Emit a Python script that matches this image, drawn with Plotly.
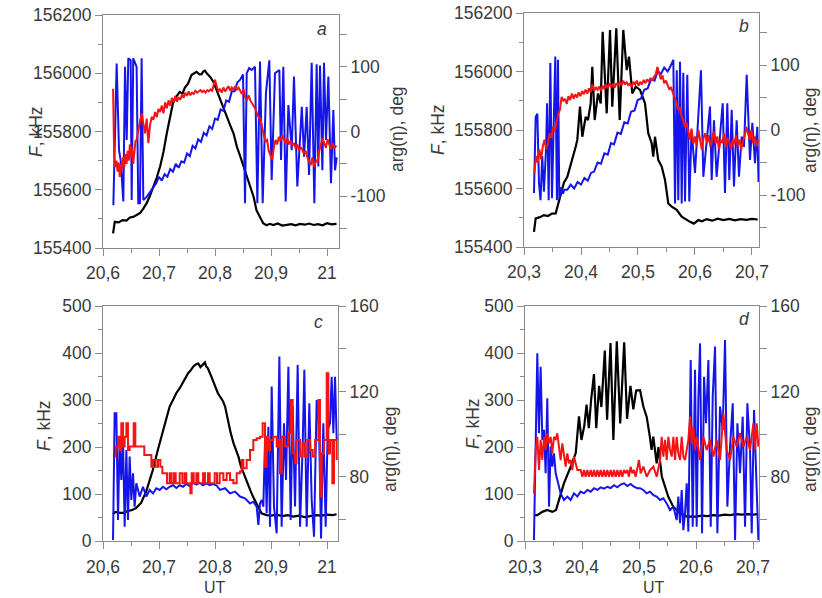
import plotly.graph_objects as go

# ---------------- Panel a ----------------
a_black_t = [20.618, 20.621, 20.628, 20.635, 20.642, 20.648, 20.654, 20.660, 20.666, 20.672,
             20.678, 20.684, 20.690, 20.696, 20.702, 20.708, 20.714, 20.720, 20.725, 20.731,
             20.737, 20.742, 20.746, 20.752, 20.758, 20.763, 20.767, 20.772, 20.776, 20.779,
             20.782, 20.786, 20.791, 20.797, 20.803, 20.809, 20.815, 20.821, 20.827, 20.833,
             20.839, 20.845, 20.851, 20.857, 20.863, 20.869, 20.874, 20.880, 20.886, 20.892,
             20.898, 20.904, 20.912, 20.920, 20.928, 20.936, 20.944, 20.952, 20.960, 20.968,
             20.976, 20.984, 20.992, 21.000, 21.008, 21.017]
a_black_f = [155450, 155490, 155488, 155496, 155494, 155505, 155507, 155514, 155520, 155535,
             155554, 155580, 155610, 155642, 155680, 155730, 155795, 155850, 155898, 155920,
             155936, 155930, 155950, 155965, 155994, 156000, 156005, 155996, 155997, 156006,
             156009, 155998, 155988, 155971, 155940, 155908, 155880, 155851, 155822, 155794,
             155748, 155715, 155679, 155645, 155610, 155575, 155530, 155505, 155485, 155478,
             155483, 155479, 155484, 155477, 155480, 155482, 155478, 155483, 155480, 155484,
             155479, 155482, 155478, 155485, 155481, 155483]

a_blue_t = [20.6185, 20.6244, 20.6286, 20.6315, 20.6363, 20.6393, 20.6423, 20.6452, 20.6494, 20.6512,
            20.654, 20.660, 20.663, 20.666, 20.669, 20.672, 20.678, 20.684, 20.690,
            20.695, 20.700, 20.705, 20.710, 20.715, 20.720, 20.725, 20.730, 20.735, 20.740,
            20.745, 20.750, 20.755, 20.760, 20.765, 20.770, 20.775, 20.780, 20.785, 20.790,
            20.795, 20.800, 20.805, 20.810, 20.815, 20.820, 20.825, 20.830, 20.835, 20.840,
            20.845, 20.850,
            20.8536, 20.8566, 20.861, 20.8655, 20.8714, 20.8756, 20.8804, 20.8851, 20.891, 20.897,
            20.9012, 20.9071, 20.9149, 20.9179, 20.922, 20.9262, 20.931, 20.937, 20.941, 20.947,
            20.955, 20.959, 20.9637, 20.9679, 20.9726, 20.9774, 20.9815, 20.9845, 20.9875, 20.9917,
            20.9946, 20.9982, 21.0024, 21.0071, 21.0113, 21.0143, 21.0173]
a_blue_deg = [-114, 105, -29, -44, -108, 100, -13, 113, 110, -106,
              113, 100, -111, -111, 113, -106, -101, -93, -85,
              -80, -70, -76, -66, -70, -58, -62, -50, -56, -46,
              -48, -34, -38, -22, -26, -12, -16, -2, -6, 8,
              4, 20, 18, 34, 32, 48, 46, 62, 62, 76,
              80, 88,
              -111, 90, 98, 95, 100, -111, 108, -111, 60, 110,
              -75, 90, 95, -44, 100, -108, 41, -29, 85, -85,
              38, -39, 38, -67, 106, -111, 104, -54, 102, -60,
              106, -13, 85, -80, 33, -60, -40]

a_red_t = [20.618, 20.620, 20.622, 20.624, 20.626, 20.628, 20.630, 20.632, 20.634, 20.636,
           20.638, 20.640, 20.642, 20.644, 20.646, 20.648, 20.650, 20.652, 20.654, 20.656,
           20.658, 20.660, 20.663, 20.666, 20.669, 20.672, 20.675, 20.678, 20.681, 20.684,
           20.687, 20.690, 20.693, 20.696, 20.699, 20.702, 20.705, 20.708, 20.711, 20.714,
           20.717, 20.720, 20.723, 20.726, 20.729, 20.732, 20.735, 20.738, 20.741, 20.744,
           20.747, 20.750, 20.753, 20.756, 20.759, 20.762, 20.765, 20.768, 20.771, 20.774,
           20.777, 20.780, 20.783, 20.786, 20.789, 20.792, 20.795, 20.798, 20.800, 20.803,
           20.806, 20.809, 20.812, 20.815, 20.818, 20.821, 20.824, 20.827, 20.830, 20.833,
           20.836, 20.839, 20.842, 20.845, 20.848, 20.851, 20.854, 20.857, 20.860, 20.863,
           20.866, 20.869, 20.872, 20.875, 20.878, 20.881, 20.884, 20.887, 20.890, 20.893,
           20.896, 20.899, 20.902, 20.905, 20.908, 20.911, 20.914, 20.917, 20.920, 20.923,
           20.926, 20.929, 20.932, 20.935, 20.938, 20.941, 20.944, 20.947, 20.950, 20.953,
           20.956, 20.959, 20.962, 20.965, 20.968, 20.971, 20.974, 20.977, 20.980, 20.983,
           20.986, 20.989, 20.992, 20.995, 20.998, 21.001, 21.004, 21.007, 21.010, 21.013,
           21.017]
a_red_deg = [66, -40, -55, -45, -62, -48, -70, -50, -58, -40,
             -55, -35, -50, -30, -45, -20, -40, -25, -50, -30,
             -15, -13, 5, 15, 28, 10, -3, 20, -18, 10,
             23, 18, 30, 22, 35, 30, 40, 28, 45, 36,
             48, 40, 52, 45, 55, 46, 53, 49, 57, 52,
             60, 55, 62, 56, 60, 58, 63, 60, 62, 64,
             61, 63, 60, 64, 62, 65, 63, 72, 80, 70,
             62, 66, 60, 68, 62, 66, 70, 63, 68, 64,
             70, 65, 68, 63, 58, 65, 52, 49, 56, 48,
             44, 40, 35, 28, 22, 20, 5, -5, -15, -13,
             -30, -38, -44, -25, -13, -20, -8, -15, -5, -12,
             -18, -10, -20, -14, -22, -18, -26, -20, -30, -24,
             -28, -35, -30, -40, -45, -52, -40, -55, -44, -48,
             -30, -20, -10, -18, -25, -12, -20, -28, -18, -25,
             -22]

# ---------------- Panel b ----------------
b_black_t = [20.3175, 20.3205, 20.328, 20.335, 20.342, 20.349, 20.3556, 20.3644, 20.370, 20.376,
             20.3847, 20.3907, 20.3935, 20.3982, 20.4023, 20.4082, 20.4123, 20.417, 20.4198, 20.424,
             20.4298, 20.4346, 20.438, 20.4451, 20.4509, 20.4549, 20.4619, 20.4679, 20.4742, 20.4802,
             20.4842, 20.490, 20.496, 20.5035, 20.5123, 20.518, 20.524, 20.5268, 20.5298, 20.5356,
             20.5416, 20.5474, 20.5532, 20.5591, 20.5679, 20.5767, 20.5912, 20.598, 20.6058, 20.612,
             20.6205, 20.630, 20.640, 20.650, 20.660, 20.670, 20.680, 20.690, 20.700, 20.710]
b_black_f = [155452, 155498, 155502, 155509, 155506, 155514, 155515, 155584, 155620, 155640,
             155697, 155743, 155766, 155880, 155777, 155845, 155834, 155891, 156016, 155834,
             155925, 155891, 156136, 155857, 156142, 155880, 156148, 155834, 156142, 156005,
             156051, 155925, 155948, 155937, 155891, 155789, 155755, 155709, 155777, 155697,
             155675, 155629, 155549, 155538, 155527, 155504, 155486, 155480, 155492, 155488,
             155495, 155490, 155497, 155492, 155496, 155491, 155495, 155493, 155496, 155494]

b_blue_t = [20.3175, 20.3205, 20.3235, 20.3263, 20.329, 20.332, 20.335, 20.3386, 20.3405, 20.3433,
            20.3462, 20.3491, 20.3549, 20.3578, 20.3596, 20.3619, 20.3655, 20.3684, 20.3707,
            20.376, 20.382, 20.388, 20.394, 20.400, 20.406, 20.412, 20.4175, 20.423, 20.429,
            20.435, 20.441, 20.447, 20.4526, 20.458, 20.464, 20.470, 20.476, 20.482, 20.4877,
            20.494, 20.4994, 20.505, 20.511, 20.517, 20.5228, 20.529, 20.5345, 20.540, 20.546,
            20.552, 20.557,
            20.562, 20.565, 20.568, 20.5707, 20.5737, 20.5767, 20.5795, 20.5825, 20.5865, 20.590,
            20.594, 20.600, 20.6076, 20.6105, 20.6146, 20.6205, 20.6263, 20.6293, 20.6333, 20.638,
            20.6439, 20.6486, 20.6526, 20.6567, 20.6602, 20.6644, 20.6684, 20.6731, 20.6772, 20.6819,
            20.686, 20.6907, 20.6965, 20.7006, 20.7053, 20.7093, 20.7115]
b_blue_deg = [-97, 20, 25, -82, -108, -40, -95, -30, 41, -108,
              103, -105, 113, -108, 108, -105, -88, -98, -92,
              -92, -84, -90, -80, -84, -74, -78, -66, -64, -50,
              -52, -36, -38, -20, -22, -4, -6, 12, 10, 28,
              30, 46, 48, 62, 64, 78, 76, 90, 86, 96,
              90, 98,
              108, -113, 92, -108, 105, -113, 88, -110, 85, -110,
              0, -66, 46, 92, -72, -15, 36, -77, 15, -72,
              -5, 41, -97, 41, -77, 31, -87, 15, -72, -10,
              -26, 85, -46, 11, -51, 5, -80]

b_red_t = [20.318, 20.321, 20.324, 20.327, 20.330, 20.333, 20.336, 20.339, 20.342, 20.345,
           20.348, 20.351, 20.354, 20.357, 20.360, 20.363, 20.366, 20.369, 20.372, 20.375,
           20.378, 20.381, 20.384, 20.387, 20.390, 20.393, 20.396, 20.399, 20.402, 20.405,
           20.408, 20.411, 20.414, 20.417, 20.420, 20.423, 20.426, 20.429, 20.432, 20.435,
           20.438, 20.441, 20.444, 20.447, 20.450, 20.453, 20.456, 20.459, 20.462, 20.465,
           20.468, 20.471, 20.474, 20.477, 20.480, 20.483, 20.486, 20.489, 20.492, 20.495,
           20.498, 20.501, 20.504, 20.507, 20.510, 20.513, 20.516, 20.519, 20.522, 20.525,
           20.528, 20.531, 20.534, 20.537, 20.540, 20.543, 20.546, 20.549, 20.552, 20.555,
           20.558, 20.561, 20.564, 20.567, 20.570, 20.573, 20.576, 20.579, 20.582, 20.585,
           20.588, 20.591, 20.594, 20.597, 20.600, 20.603, 20.606, 20.609, 20.612, 20.615,
           20.618, 20.621, 20.624, 20.627, 20.630, 20.633, 20.636, 20.639, 20.642, 20.645,
           20.648, 20.651, 20.654, 20.657, 20.660, 20.663, 20.666, 20.669, 20.672, 20.675,
           20.678, 20.681, 20.684, 20.687, 20.690, 20.693, 20.696, 20.699, 20.702, 20.705,
           20.708, 20.711]
b_red_deg = [-67, -40, -50, -30, -45, -25, -15, -30, -20, -5,
             -12, 5, -2, 10, 25, 31, 51, 45, 48, 40,
             52, 46, 56, 48, 55, 50, 58, 52, 60, 55,
             62, 56, 64, 58, 70, 60, 66, 62, 67, 60,
             68, 63, 70, 64, 72, 66, 70, 65, 72, 68,
             74, 69, 76, 70, 74, 68, 72, 66, 74, 70,
             76, 68, 74, 70, 77, 72, 78, 74, 80, 76,
             82, 85, 97, 88, 78, 84, 72, 76, 70, 62,
             66, 56, 50, 44, 31, 36, 22, 15, 5, 12,
             -5, -15, 2, -21, -10, -25, 0, -15, -30, -12,
             -5, -20, -8, -26, -14, -2, -21, -10, -30, -15,
             -20, -5, -26, -12, -18, -30, -15, -22, -8, -25,
             -15, -30, -18, -10, 5, -5, -15, 0, -20, -10,
             -25, -15]

# ---------------- Panel c ----------------
c_black_t = [20.618, 20.622, 20.630, 20.636, 20.645, 20.652, 20.659, 20.668, 20.677, 20.689,
             20.698, 20.707, 20.713, 20.719, 20.725, 20.731, 20.737, 20.743, 20.748, 20.752,
             20.756, 20.761, 20.765, 20.770, 20.774, 20.779, 20.782, 20.784, 20.787, 20.791,
             20.795, 20.800, 20.805, 20.809, 20.814, 20.818, 20.824, 20.828, 20.833, 20.837,
             20.842, 20.846, 20.851, 20.855, 20.860, 20.864, 20.868, 20.873, 20.877, 20.883,
             20.892, 20.900, 20.910, 20.920, 20.930, 20.940, 20.950, 20.960, 20.970, 20.980,
             20.990, 21.000, 21.010, 21.017]
c_black_f = [57, 62, 60, 60, 64, 66, 70, 81, 105, 151,
             194, 236, 260, 286, 300, 315, 325, 339, 348, 357,
             362, 371, 375, 378, 370, 375, 380, 372, 368, 357,
             345, 328, 315, 307, 298, 286, 250, 230, 208, 195,
             179, 160, 144, 130, 116, 105, 94, 84, 73, 59,
             55, 54, 56, 53, 55, 52, 54, 51, 53, 55,
             54, 56, 55, 57]

c_blue_t = [20.6179, 20.6208, 20.6238, 20.6268, 20.6298, 20.6327, 20.6357, 20.6387, 20.6417, 20.6446,
            20.6476, 20.6506, 20.6536, 20.6565, 20.6595, 20.6655, 20.6714, 20.6774, 20.6833, 20.6893,
            20.6952, 20.7012, 20.7071, 20.7131, 20.719, 20.725, 20.731, 20.7369, 20.7429, 20.7488,
            20.7548, 20.7607, 20.7667, 20.7726, 20.7786, 20.7845, 20.7905, 20.7964, 20.8024, 20.8089,
            20.8179, 20.8268, 20.8357, 20.8446, 20.8536, 20.8625, 20.8684, 20.8744, 20.8774, 20.8803,
            20.8833, 20.8863, 20.8893, 20.8922, 20.8952, 20.8982, 20.9012, 20.9053, 20.9101, 20.9149,
            20.919, 20.9232, 20.9268, 20.931, 20.9351, 20.9387, 20.9429, 20.9476, 20.9518, 20.9565,
            20.9595, 20.9637, 20.9684, 20.9726, 20.9768, 20.9815, 20.9857, 20.9893, 20.9934, 20.9976,
            21.0012, 21.0053, 21.0083, 21.0113, 21.0143, 21.0173]
c_blue_deg = [50.5, 109.8, 109.8, 59.8, 98.8, 78.6, 97.3, 56.7, 92.6, 59.8,
              89.5, 69.2, 81.7, 66.1, 77.0, 70.8, 75.4, 70.8, 73.9, 72.3,
              74.7, 73.9, 75.4, 74.2, 75.4, 76.1, 74.8, 76.1, 75.4, 76.7,
              75.7, 77.3, 76.4, 77.3, 76.1, 77.0, 76.1, 76.7, 76.1, 73.9,
              74.7, 72.3, 73.1, 70.8, 70.0, 67.6, 68.4, 66.1, 57.5, 67.6,
              69.2, 66.1, 97.3, 63.0, 103.5, 56.7, 122.3, 66.1, 53.6, 136.3,
              56.7, 105.1, 78.6, 131.6, 59.8, 112.9, 66.1, 132.4, 56.7, 94.2,
              130.1, 56.7, 114.5, 69.2, 52.0, 116.0, 103.5, 51.2, 105.1, 56.7,
              102.0, 105.1, 126.9, 100.4, 126.9, 97.3]

c_red_t = [20.6208, 20.6226, 20.6268, 20.6298, 20.6327, 20.6357, 20.6387, 20.6417, 20.6446, 20.6476,
           20.6524, 20.6548, 20.6577, 20.6726, 20.6738, 20.6833, 20.6863, 20.6893, 20.694, 20.6982,
           20.7024, 20.706, 20.7119, 20.7143, 20.719, 20.722, 20.7262, 20.7298, 20.7345, 20.7369,
           20.7417, 20.7458, 20.7488, 20.7536, 20.756, 20.7583, 20.7619, 20.7667, 20.7702, 20.7756,
           20.7786, 20.7821, 20.7875, 20.7905, 20.7964, 20.7994, 20.8036, 20.8083, 20.8119, 20.8149,
           20.8208, 20.8268, 20.8327, 20.8387, 20.8446, 20.8476, 20.8506, 20.8565, 20.8625, 20.8684,
           20.8744, 20.8803, 20.8851, 20.8893, 20.8922, 20.8952, 20.8982, 20.9041, 20.9101, 20.913,
           20.916, 20.919, 20.925, 20.931, 20.9351, 20.9387, 20.9429, 20.9458, 20.9518, 20.9565,
           20.9607, 20.9649, 20.9696, 20.9744, 20.9786, 20.9845, 20.9875, 20.9905, 20.9946, 20.9994,
           21.0024, 21.0053, 21.0095, 21.0125, 21.0173]
c_red_deg = [89.5, 94.2, 98.8, 92.6, 105.1, 94.2, 98.8, 105.1, 92.6, 94.2,
             94.2, 105.1, 94.2, 94.2, 90.3, 90.3, 84.8, 87.9, 84.8, 87.9,
             84.8, 81.7, 81.7, 77.0, 81.7, 77.0, 81.7, 77.0, 77.0, 81.7,
             77.0, 81.7, 77.0, 77.0, 72.3, 81.7, 77.0, 81.7, 77.0, 77.0,
             81.7, 77.0, 81.7, 77.0, 77.0, 81.7, 77.0, 81.7, 81.7, 78.6,
             81.7, 78.6, 77.0, 81.7, 82.5, 87.9, 84.0, 87.9, 92.6, 97.3,
             98.1, 98.8, 105.1, 84.8, 98.8, 92.6, 97.3, 98.8, 94.2, 97.3,
             81.7, 98.8, 94.2, 100.4, 116.0, 91.0, 86.4, 97.3, 89.5, 95.7,
             89.5, 97.3, 92.6, 89.5, 97.3, 116.0, 70.8, 91.0, 97.3, 128.5,
             91.0, 97.3, 77.0, 97.3, 87.9]

# ---------------- Panel d ----------------
d_black_t = [20.3158, 20.3216, 20.3304, 20.3391, 20.3479, 20.3544, 20.3596, 20.3684, 20.3802, 20.389,
             20.3947, 20.399, 20.404, 20.408, 20.412, 20.416, 20.421, 20.425, 20.430, 20.434,
             20.440, 20.444, 20.450, 20.455, 20.461, 20.467, 20.474, 20.479, 20.485, 20.490,
             20.495, 20.5018, 20.5076, 20.5135, 20.519, 20.522, 20.525, 20.531, 20.534, 20.540,
             20.5456, 20.5514, 20.560, 20.572, 20.584, 20.600, 20.610, 20.620, 20.630, 20.640,
             20.650, 20.660, 20.670, 20.680, 20.690, 20.700, 20.709]
d_black_f = [55, 55, 62, 66, 62, 66, 87, 123, 158, 187,
             265, 215, 245, 290, 240, 300, 355, 240, 330, 285,
             405, 258, 421, 215, 425, 250, 423, 260, 330, 280,
             320, 321, 286, 264, 222, 194, 222, 165, 200, 137,
             116, 94, 73, 59, 52, 52, 54, 53, 55, 54,
             56, 55, 57, 56, 57, 56, 57]

d_blue_t = [20.3157, 20.3216, 20.3245, 20.3274, 20.3304, 20.3333, 20.3362, 20.3391, 20.3421, 20.345,
            20.3479, 20.3508, 20.3538, 20.3567, 20.3625, 20.3684, 20.3742, 20.3801, 20.3859, 20.3918,
            20.3976, 20.4035, 20.4093, 20.4152, 20.421, 20.4269, 20.4327, 20.4386, 20.4444, 20.4503,
            20.4561, 20.462, 20.4678, 20.4736, 20.4795, 20.4853, 20.4912, 20.497, 20.5018, 20.5076,
            20.5135, 20.5193, 20.5252, 20.531, 20.5369, 20.5427, 20.5486, 20.5544, 20.5603, 20.5661,
            20.569, 20.572, 20.5749, 20.5778, 20.5807, 20.5837, 20.5866, 20.5907, 20.5942, 20.5983,
            20.6012, 20.6041, 20.6071, 20.6106, 20.6141, 20.6176, 20.6217, 20.6258, 20.6293, 20.6334,
            20.6375, 20.6421, 20.6468, 20.6509, 20.655, 20.6597, 20.6644, 20.6685, 20.6726, 20.6772,
            20.6819, 20.686, 20.6901, 20.6948, 20.6977, 20.7018, 20.7065, 20.7094]
d_blue_deg = [50.5, 137.9, 100.4, 131.6, 97.3, 102.0, 81.7, 116.8, 66.1, 94.2,
              84.8, 91.0, 81.7, 78.6, 72.3, 69.2, 70.8, 69.2, 72.3, 70.8,
              73.1, 72.3, 73.9, 73.1, 74.7, 73.9, 75.1, 74.5, 75.4, 74.8,
              76.1, 75.1, 76.4, 77.0, 75.7, 76.7, 75.4, 74.7, 74.7, 73.9,
              72.3, 73.1, 71.5, 70.8, 69.2, 70.0, 67.6, 64.5, 66.1, 59.8,
              70.8, 58.3, 73.9, 55.1, 63.0, 77.0, 54.4, 134.7, 56.7, 130.1,
              56.7, 116.0, 142.5, 53.6, 126.9, 105.1, 134.7, 56.7, 117.6, 141.0,
              53.6, 112.9, 102.0, 144.1, 66.1, 94.2, 114.5, 50.5, 105.1, 81.7,
              108.2, 56.7, 114.5, 92.6, 53.6, 111.3, 73.9, 50.5]

d_red_t = [20.3157, 20.3187, 20.3216, 20.3245, 20.3274, 20.3304, 20.3333, 20.3362, 20.3391, 20.3421,
           20.345, 20.3479, 20.3508, 20.3538, 20.3567, 20.3596, 20.3625, 20.3655, 20.3684, 20.3713,
           20.3742, 20.3772, 20.3801, 20.383, 20.3859, 20.3918, 20.3976, 20.4006, 20.4035, 20.4064,
           20.4093, 20.4123, 20.4152, 20.4181, 20.421, 20.424, 20.4269, 20.4298, 20.4327, 20.4357,
           20.4386, 20.4415, 20.4444, 20.4474, 20.4503, 20.4532, 20.4561, 20.4591, 20.462, 20.4649,
           20.4678, 20.4708, 20.4737, 20.4766, 20.4795, 20.4824, 20.4853, 20.4883, 20.4912, 20.4941,
           20.500, 20.5029, 20.5076, 20.5135, 20.5193, 20.5252, 20.531, 20.5369, 20.5398, 20.5427,
           20.5457, 20.5486, 20.5515, 20.5544, 20.5574, 20.5603, 20.5632, 20.5661, 20.569, 20.572,
           20.5749, 20.5778, 20.5807, 20.5837, 20.5866, 20.5895, 20.5924, 20.5954, 20.5983, 20.6012,
           20.6071, 20.6129, 20.6188, 20.6246, 20.6305, 20.6363, 20.6422, 20.648, 20.6538, 20.6597,
           20.6655, 20.6714, 20.6772, 20.6831, 20.6889, 20.6948, 20.7006, 20.7035, 20.7065, 20.7094]
d_red_deg = [72.3, 92.6, 98.8, 83.2, 97.3, 87.9, 98.8, 92.6, 100.4, 95.7,
             98.8, 91.0, 98.8, 97.3, 100.4, 92.6, 87.9, 95.7, 89.5, 84.8,
             91.0, 86.4, 87.9, 83.2, 89.5, 83.2, 83.2, 80.1, 83.2, 80.1,
             83.2, 80.1, 83.2, 80.1, 83.2, 80.1, 83.2, 80.1, 83.2, 80.1,
             83.2, 80.1, 83.2, 80.1, 83.2, 80.1, 83.2, 80.1, 83.2, 80.1,
             83.2, 80.1, 83.2, 81.7, 83.2, 80.1, 84.8, 81.7, 83.2, 80.1,
             87.9, 81.7, 84.8, 80.1, 83.2, 84.8, 80.1, 87.9, 98.8, 89.5,
             97.3, 87.9, 98.8, 92.6, 89.5, 98.8, 87.9, 98.8, 91.0, 87.9,
             98.8, 89.5, 87.9, 92.6, 97.3, 108.2, 95.7, 103.5, 92.6, 98.8,
             87.9, 98.8, 92.6, 97.3, 89.5, 97.3, 87.9, 109.8, 92.6, 87.9,
             98.8, 94.2, 100.4, 94.2, 98.8, 92.6, 105.1, 92.6, 105.1, 94.2]

# ---------------- Axis ticks ----------------
x_ticks_ac = [20.6, 20.7, 20.8, 20.9, 21.0]
x_labels_ac = ["20,6", "20,7", "20,8", "20,9", "21"]
x_ticks_bd = [20.3, 20.4, 20.5, 20.6, 20.7]
x_labels_bd = ["20,3", "20,4", "20,5", "20,6", "20,7"]
f_ticks_ab = [155400, 155600, 155800, 156000, 156200]
f_labels_ab = ["155400", "155600", "155800", "156000", "156200"]
f_ticks_cd = [0, 100, 200, 300, 400, 500]
arg_ticks_ab = [-100, 0, 100]
arg_ticks_cd = [80, 120, 160]

BLACK = "#000000"
BLUE = "rgb(20,20,235)"
RED = "rgb(245,20,20)"
AXC = "#8a8a8a"
TXT = "#3a3a3a"
FONT = "Liberation Sans, Arial, sans-serif"
FS = 17.5

fig = go.Figure()

def add_panel(xa, ya, ya2, bt, bf, ut, uv, rt, rv, red_shape="linear"):
    fig.add_trace(go.Scatter(x=ut, y=uv, mode="lines", line=dict(color=BLUE, width=2),
                             xaxis=xa, yaxis=ya2, showlegend=False))
    fig.add_trace(go.Scatter(x=bt, y=bf, mode="lines", line=dict(color=BLACK, width=2.2),
                             xaxis=xa, yaxis=ya, showlegend=False))
    fig.add_trace(go.Scatter(x=rt, y=rv, mode="lines", line=dict(color=RED, width=2, shape=red_shape),
                             xaxis=xa, yaxis=ya2, showlegend=False))

add_panel("x", "y", "y2", a_black_t, a_black_f, a_blue_t, a_blue_deg, a_red_t, a_red_deg)
add_panel("x2", "y3", "y4", b_black_t, b_black_f, b_blue_t, b_blue_deg, b_red_t, b_red_deg)
add_panel("x3", "y5", "y6", c_black_t, c_black_f, c_blue_t, c_blue_deg, c_red_t, c_red_deg, "hv")
add_panel("x4", "y7", "y8", d_black_t, d_black_f, d_blue_t, d_blue_deg, d_red_t, d_red_deg)

tickfont = dict(family=FONT, size=FS, color=TXT)

def xax(domain, rng, vals, labels, anchor, lstand):
    return dict(domain=domain, range=rng, anchor=anchor, tickmode="array", tickvals=vals,
                ticktext=labels, ticks="outside", ticklen=7, tickwidth=1, tickcolor=AXC,
                showline=True, linecolor=AXC, linewidth=1, mirror=True, showgrid=False,
                zeroline=False, tickfont=tickfont, automargin=False, ticklabelstandoff=lstand,
                minor=dict(ticks="outside", dtick=0.05, tick0=20.0, ticklen=4, tickcolor=AXC, showgrid=False))

def yleft(domain, rng, vals, labels, anchor, mdt):
    return dict(domain=domain, range=rng, anchor=anchor, tickmode="array", tickvals=vals,
                ticktext=labels, ticks="outside", ticklen=7, tickwidth=1, tickcolor=AXC,
                showline=True, linecolor=AXC, linewidth=1, showgrid=False, zeroline=False,
                tickfont=tickfont, automargin=False,
                minor=dict(ticks="outside", dtick=mdt, tick0=0, ticklen=4, tickcolor=AXC, showgrid=False))

def yright(over, rng, vals, anchor, mdt):
    return dict(overlaying=over, side="right", range=rng, anchor=anchor, tickmode="array",
                tickvals=vals, ticktext=[str(v) for v in vals], ticks="outside", ticklen=7,
                tickwidth=1, tickcolor=AXC, showline=True, linecolor=AXC, linewidth=1,
                showgrid=False, zeroline=False, tickfont=tickfont, automargin=False,
                minor=dict(ticks="outside", dtick=mdt, tick0=0, ticklen=7, tickcolor=AXC, showgrid=False))

W, H = 822, 598
def dom_x(p0, p1):
    return [p0 / W, p1 / W]
def dom_y(top, bottom):
    return [1 - bottom / H, 1 - top / H]

fig.update_layout(
    width=W, height=H, margin=dict(l=0, r=0, t=0, b=0, autoexpand=False),
    paper_bgcolor="white", plot_bgcolor="white", showlegend=False,
    font=dict(family=FONT, size=FS, color=TXT),
    xaxis=xax(dom_x(103, 339), [20.6, 21.0214], x_ticks_ac, x_labels_ac, "y", 2),
    yaxis=yleft(dom_y(15, 248), [155400, 156200], f_ticks_ab, f_labels_ab, "x", 100),
    yaxis2=yright("y", [-180, 180], arg_ticks_ab, "x", 50),
    xaxis2=xax(dom_x(524, 759), [20.3, 20.7123], x_ticks_bd, x_labels_bd, "y3", 2),
    yaxis3=yleft(dom_y(13, 247), [155400, 156200], f_ticks_ab, f_labels_ab, "x2", 100),
    yaxis4=yright("y3", [-180, 180], arg_ticks_ab, "x2", 50),
    xaxis3=xax(dom_x(103, 338), [20.6, 21.0196], x_ticks_ac, x_labels_ac, "y5", 3),
    yaxis5=yleft(dom_y(306, 541), [0, 500], f_ticks_cd, [str(v) for v in f_ticks_cd], "x3", 50),
    yaxis6=yright("y5", [50, 160], arg_ticks_cd, "x3", 20),
    xaxis4=xax(dom_x(525, 759), [20.3, 20.7105], x_ticks_bd, x_labels_bd, "y7", 3),
    yaxis7=yleft(dom_y(306, 541), [0, 500], f_ticks_cd, [str(v) for v in f_ticks_cd], "x4", 50),
    yaxis8=yright("y7", [50, 160], arg_ticks_cd, "x4", 20),
)

def ann(text, px, py, angle=0, size=FS):
    fig.add_annotation(text=text, x=px / W, y=1 - py / H, xref="paper", yref="paper",
                       showarrow=False, textangle=angle, xanchor="center", yanchor="middle",
                       font=dict(family=FONT, size=size, color=TXT))

ann("<i>F</i>, kHz", 36, 132, -90)
ann("arg(η), deg", 397, 129, -90)
ann("<i>F</i>, kHz", 438, 130, -90)
ann("arg(η), deg", 810, 130, -90)
ann("<i>F</i>, kHz", 44, 426, -90)
ann("arg(η), deg", 390, 449, -90)
ann("<i>F</i>, kHz", 473, 424, -90)
ann("arg(η), deg", 810, 449, -90)
ann("UT", 215, 587, size=16)
ann("UT", 654, 587, size=16)
ann("<i>a</i>", 322, 29)
ann("<i>b</i>", 744, 26)
ann("<i>c</i>", 318, 322)
ann("<i>d</i>", 744, 319)

fig.write_html("out.html")
